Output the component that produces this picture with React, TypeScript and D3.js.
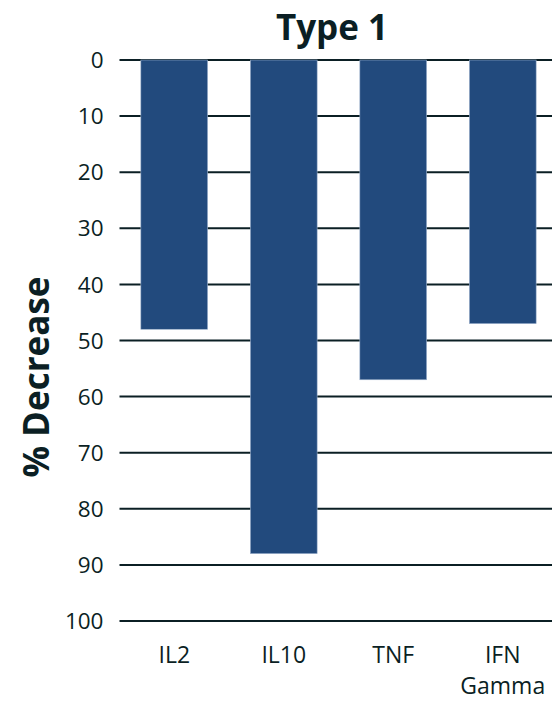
import React from "react";
import * as d3 from "d3";

const categories: string[][] = [["IL2"], ["IL10"], ["TNF"], ["IFN", "Gamma"]];
const decreases: number[] = [48, 88, 57, 47];
const yTicks: number[] = [0, 10, 20, 30, 40, 50, 60, 70, 80, 90, 100];
const title = "Type 1";
const yLabel = "% Decrease";

const W = 552;
const H = 702;
const FONT = "'Open Sans', 'DejaVu Sans', sans-serif";
const TEXT = "#0b1f24";
const BAR = "#224a7d";

export default function App() {
  const keys = categories.map((c) => c.join(" "));
  const x = d3
    .scaleBand<string>()
    .domain(keys)
    .range([119.5, 557.5])
    .paddingInner(0.39)
    .paddingOuter(0.195);
  const y = d3.scaleLinear().domain([0, 100]).range([60, 621]);

  return (
    <svg
      width={W}
      height={H}
      style={{ position: "absolute", left: 0, top: 0, background: "#fff" }}
      fontFamily={FONT}
    >
      <text x={332} y={40} textAnchor="middle" fontSize={35} fontWeight={700} fill={TEXT}>
        {title}
      </text>
      <text
        transform={`translate(49,377) rotate(-90)`}
        textAnchor="middle"
        fontSize={35}
        fontWeight={700}
        fill={TEXT}
      >
        {yLabel}
      </text>
      {yTicks.map((t) => (
        <g key={t}>
          <line x1={119.5} x2={W} y1={y(t)} y2={y(t)} stroke={TEXT} strokeWidth={2} />
          <text x={103.5} y={y(t)} dy="0.36em" textAnchor="end" fontSize={22.5} fill={TEXT}>
            {t}
          </text>
        </g>
      ))}
      {keys.map((k, i) => (
        <rect
          key={k}
          x={x(k)}
          y={y(0)}
          width={x.bandwidth()}
          height={y(decreases[i]) - y(0)}
          fill={BAR}
          stroke="#9fb3cf"
          strokeWidth={0.6}
        />
      ))}
      {categories.map((lines, i) => (
        <text
          key={keys[i]}
          x={(x(keys[i]) as number) + x.bandwidth() / 2}
          y={663}
          textAnchor="middle"
          fontSize={23}
          fill={TEXT}
        >
          {lines.map((l, j) => (
            <tspan key={l} x={(x(keys[i]) as number) + x.bandwidth() / 2} dy={j === 0 ? 0 : 31}>
              {l}
            </tspan>
          ))}
        </text>
      ))}
    </svg>
  );
}
